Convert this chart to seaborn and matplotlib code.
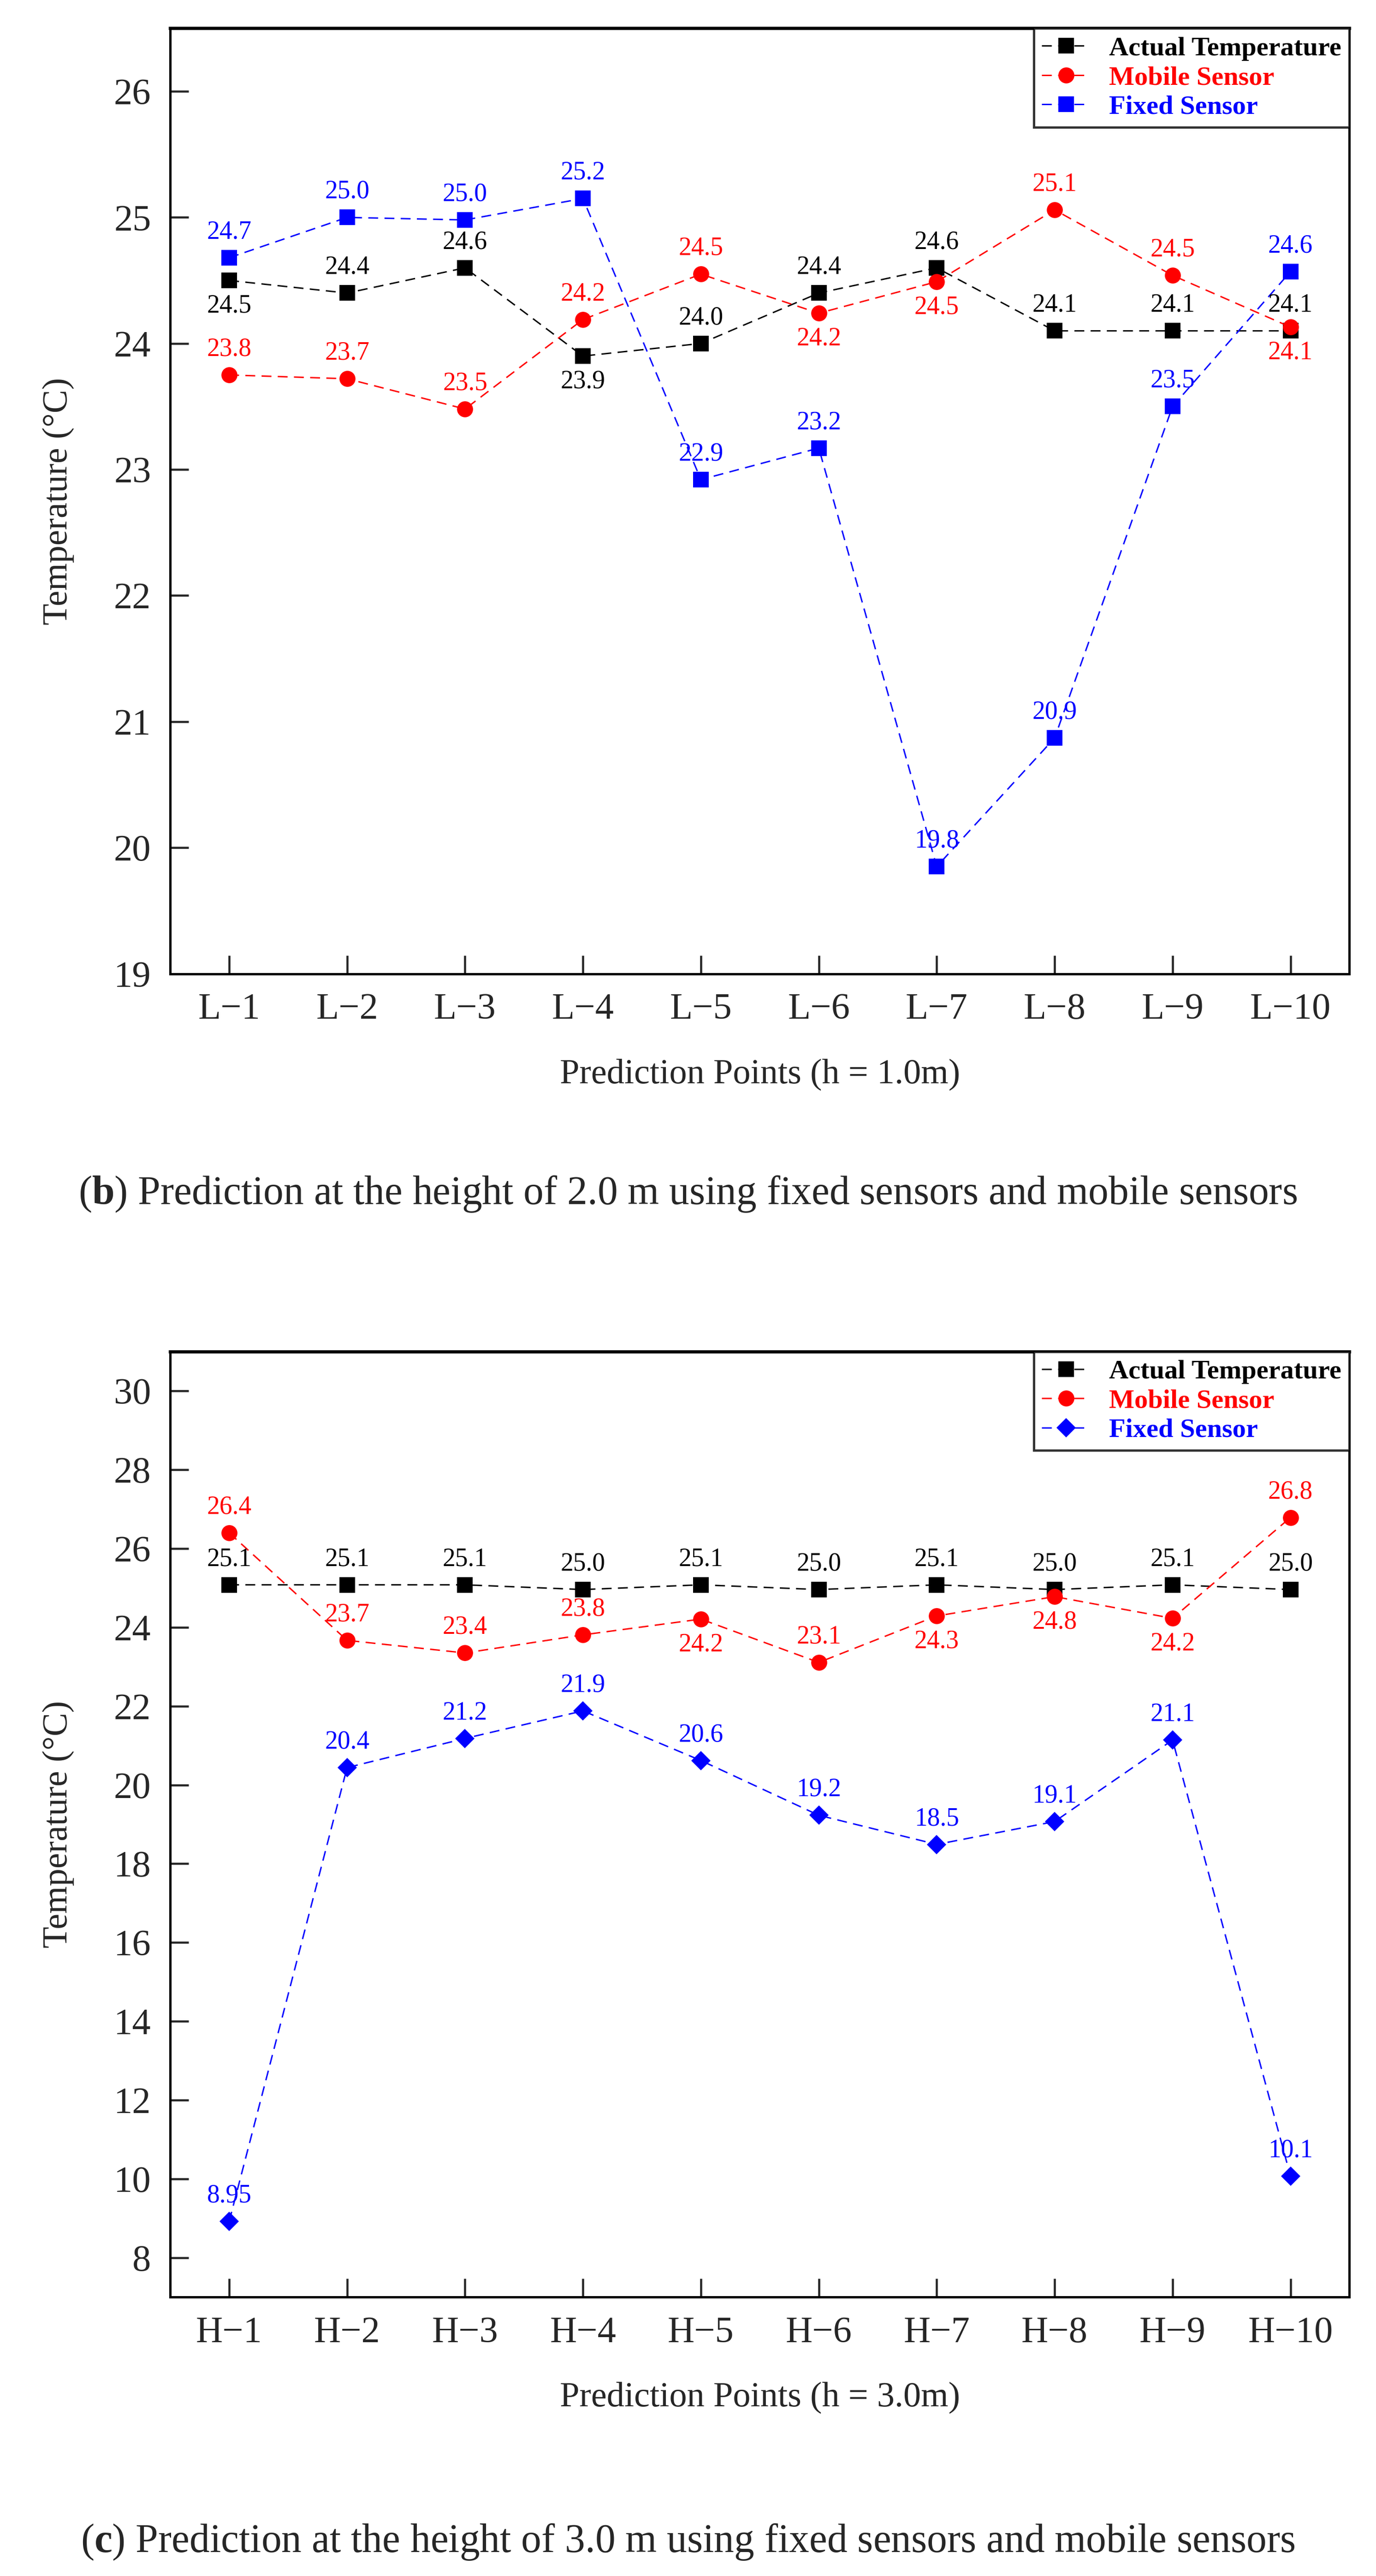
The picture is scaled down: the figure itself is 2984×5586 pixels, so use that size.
import numpy as np
import pandas as pd
import matplotlib
matplotlib.use("Agg")
import matplotlib.pyplot as plt
import seaborn as sns

# ---------------------------------------------------------------
# Data
# ---------------------------------------------------------------
points_low = ["L\u22121", "L\u22122", "L\u22123", "L\u22124", "L\u22125",
              "L\u22126", "L\u22127", "L\u22128", "L\u22129", "L\u221210"]
points_high = ["H\u22121", "H\u22122", "H\u22123", "H\u22124", "H\u22125",
               "H\u22126", "H\u22127", "H\u22128", "H\u22129", "H\u221210"]

# h = 1.0 m
actual_low = [24.5, 24.4, 24.6, 23.9, 24.0, 24.4, 24.6, 24.1, 24.1, 24.1]
mobile_low = [23.75, 23.72, 23.48, 24.19, 24.55, 24.24, 24.49, 25.06, 24.54, 24.13]
fixed_low = [24.68, 25.0, 24.98, 25.15, 22.92, 23.17, 19.85, 20.87, 23.5, 24.57]
actual_low_lbl = ["24.5", "24.4", "24.6", "23.9", "24.0", "24.4", "24.6", "24.1", "24.1", "24.1"]
mobile_low_lbl = ["23.8", "23.7", "23.5", "24.2", "24.5", "24.2", "24.5", "25.1", "24.5", "24.1"]
fixed_low_lbl = ["24.7", "25.0", "25.0", "25.2", "22.9", "23.2", "19.8", "20.9", "23.5", "24.6"]
# +1 label above the marker, -1 below
actual_low_side = [-1, 1, 1, -1, 1, 1, 1, 1, 1, 1]
mobile_low_side = [1, 1, 1, 1, 1, -1, -1, 1, 1, -1]
fixed_low_side = [1, 1, 1, 1, 1, 1, 1, 1, 1, 1]

# h = 3.0 m
actual_high = [25.08, 25.08, 25.08, 24.96, 25.08, 24.96, 25.08, 24.96, 25.08, 24.96]
mobile_high = [26.4, 23.67, 23.35, 23.81, 24.21, 23.11, 24.29, 24.78, 24.23, 26.79]
fixed_high = [8.92, 20.44, 21.18, 21.88, 20.62, 19.23, 18.49, 19.07, 21.14, 10.07]
actual_high_lbl = ["25.1", "25.1", "25.1", "25.0", "25.1", "25.0", "25.1", "25.0", "25.1", "25.0"]
mobile_high_lbl = ["26.4", "23.7", "23.4", "23.8", "24.2", "23.1", "24.3", "24.8", "24.2", "26.8"]
fixed_high_lbl = ["8.95", "20.4", "21.2", "21.9", "20.6", "19.2", "18.5", "19.1", "21.1", "10.1"]
actual_high_side = [1, 1, 1, 1, 1, 1, 1, 1, 1, 1]
mobile_high_side = [1, 1, 1, 1, -1, 1, -1, -1, -1, 1]
fixed_high_side = [1, 1, 1, 1, 1, 1, 1, 1, 1, 1]

BLACK, RED, BLUE = "#000000", "#FF0000", "#0000FF"

# ---------------------------------------------------------------
# Style
# ---------------------------------------------------------------
sns.set_theme(style="ticks")
plt.rcParams["font.family"] = ["Liberation Serif", "DejaVu Serif"]
plt.rcParams["mathtext.fontset"] = "custom"
plt.rcParams["mathtext.rm"] = "Liberation Serif"
plt.rcParams["mathtext.bf"] = "Liberation Serif:bold"

fig = plt.figure(figsize=(29.84, 55.86), dpi=100)
ax1 = fig.add_axes([0.1237, 0.622, 0.857, 0.367])
ax2 = fig.add_axes([0.1237, 0.1083, 0.857, 0.367])


def draw_panel(ax, cats, series, ylim, yticks, xlabel):
    for name, vals, lbls, sides, color, marker, ms in series:
        df = pd.DataFrame({"point": cats, "temp": vals})
        sns.lineplot(data=df, x="point", y="temp", ax=ax, sort=False,
                     color=color, marker=marker, markersize=ms,
                     markeredgecolor=color, markeredgewidth=0,
                     linewidth=2.2, label=name)
        ax.lines[-1].set_dashes([7, 4.5])
        # value labels above / below each marker
        for i, (v, t, s) in enumerate(zip(vals, lbls, sides)):
            ax.annotate(t, (i, v), xytext=(0, 40 * s), textcoords="offset points",
                        ha="center", va="center", color=color, fontsize=40)

    ax.set_xlim(-0.5, len(cats) - 0.5)
    ax.set_ylim(*ylim)
    ax.set_yticks(yticks)
    ax.tick_params(axis="both", direction="in", length=29, width=3.3,
                   labelsize=58, pad=30, top=False, right=False)
    ax.set_xlabel(xlabel, fontsize=55, labelpad=50)
    ax.set_ylabel("Temperature (\u00b0C)", fontsize=55, labelpad=62)
    for sp in ax.spines.values():
        sp.set_visible(True)
        sp.set_color("black")
        sp.set_linewidth(3.6)
    ax.spines["top"].set_linewidth(5)

    leg = ax.legend(loc="upper right", borderaxespad=0, fancybox=False,
                    frameon=True, edgecolor="black",
                    handlelength=1.8, handletextpad=0.7, labelspacing=0.18,
                    borderpad=0.3, prop={"weight": "bold", "size": 42})
    leg.get_frame().set_linewidth(3.6)
    for txt, s in zip(leg.get_texts(), series):
        txt.set_color(s[4])


draw_panel(
    ax1, points_low,
    [("Actual Temperature", actual_low, actual_low_lbl, actual_low_side, BLACK, "s", 25),
     ("Mobile Sensor", mobile_low, mobile_low_lbl, mobile_low_side, RED, "o", 25),
     ("Fixed Sensor", fixed_low, fixed_low_lbl, fixed_low_side, BLUE, "s", 25)],
    (19, 26.5), range(19, 27), "Prediction Points (h = 1.0m)")

draw_panel(
    ax2, points_high,
    [("Actual Temperature", actual_high, actual_high_lbl, actual_high_side, BLACK, "s", 25),
     ("Mobile Sensor", mobile_high, mobile_high_lbl, mobile_high_side, RED, "o", 25),
     ("Fixed Sensor", fixed_high, fixed_high_lbl, fixed_high_side, BLUE, "D", 21)],
    (7, 31), range(8, 31, 2), "Prediction Points (h = 3.0m)")

fig.text(0.5, 0.5365,
         r"($\mathbf{b}$) Prediction at the height of 2.0 m using fixed sensors and mobile sensors",
         ha="center", va="center", fontsize=63)
fig.text(0.5, 0.0132,
         r"($\mathbf{c}$) Prediction at the height of 3.0 m using fixed sensors and mobile sensors",
         ha="center", va="center", fontsize=63)

fig.savefig("out.png", dpi=100, facecolor="white")
